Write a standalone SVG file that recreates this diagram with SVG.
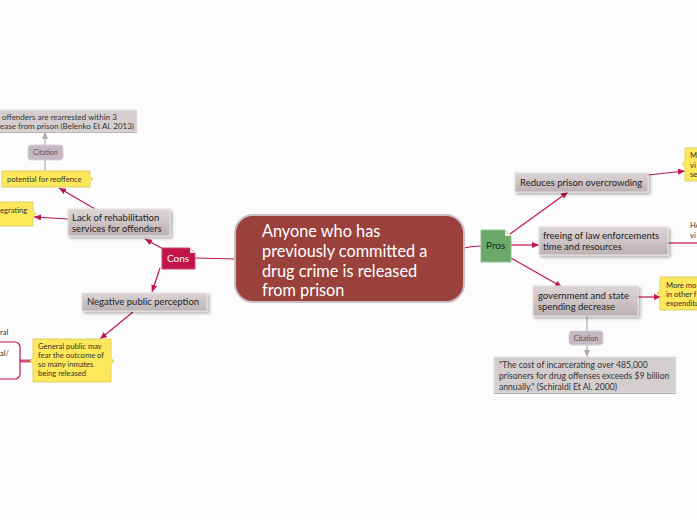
<svg xmlns="http://www.w3.org/2000/svg" width="697" height="520" viewBox="0 0 697 520">
<defs>
<linearGradient id="gb" x1="0" y1="0" x2="0" y2="1">
<stop offset="0" stop-color="#dcd5d6"/>
<stop offset="1" stop-color="#bdb2b3"/>
</linearGradient>
<filter id="sh" x="-20%" y="-30%" width="140%" height="170%">
<feDropShadow dx="2" dy="2" stdDeviation="1.5" flood-color="#000" flood-opacity="0.3"/>
</filter>
<marker id="ar" markerWidth="7" markerHeight="6" refX="7" refY="3" orient="auto" markerUnits="userSpaceOnUse">
<path d="M0,0 L7,3 L0,6 z" fill="#bf1650"/>
</marker>
<marker id="ag" markerWidth="7" markerHeight="6" refX="7" refY="3" orient="auto" markerUnits="userSpaceOnUse">
<path d="M0,0 L7,3 L0,6 z" fill="#b4aab4"/>
</marker>
<style>
text{font-family:Lato,"Liberation Sans",sans-serif;}
.box{fill:url(#gb);stroke:#e4dfe0;stroke-width:1;filter:url(#sh);}
.bt{font-size:9.5px;fill:#222;}
.note{fill:#fde85a;stroke:#e2cf6a;stroke-width:1;}
.nt{font-size:7.6px;fill:#333;}
.cit{fill:#c4b8c4;stroke:#d8d0d8;}
.ct{font-size:7px;fill:#555;text-anchor:middle;}
.q{fill:#d4cecf;stroke:#e6e1e2;}
.qt{font-size:8px;fill:#333;}
.qr{font-size:8.6px;fill:#333;}
.c{fill:none;stroke:#bf1650;stroke-width:1.2;}
.g{fill:none;stroke:#b4aab4;stroke-width:1.2;}
.mt{font-size:16.3px;fill:#fff;}
</style>
</defs>
<rect width="697" height="520" fill="#fdfcfd"/>
<g id="connectors">
<path class="c" d="M235,259 L195,258"/>
<path class="c" d="M464,248 Q472,246 481,246"/>
<path class="c" d="M510,234 L568,192" marker-end="url(#ar)"/>
<path class="c" d="M511,245 L539,245" marker-end="url(#ar)"/>
<path class="c" d="M511,258 L562,287" marker-end="url(#ar)"/>
<path class="c" d="M648,175 L685,171" marker-end="url(#ar)"/>
<path class="c" d="M668,243 L697,243"/>
<path class="c" d="M638,297 L661,297" marker-end="url(#ar)"/>
<path class="g" d="M587,316 V331"/>
<path class="g" d="M587,345 V357" marker-end="url(#ag)"/>
<path class="c" d="M165,250 L145,239" marker-end="url(#ar)"/>
<path class="c" d="M95,209 L59,188" marker-end="url(#ar)"/>
<path class="c" d="M68,219 L34,217" marker-end="url(#ar)"/>
<path class="g" d="M45,171 V160"/>
<path class="g" d="M45,145 V132" marker-end="url(#ag)"/>
<path class="c" d="M160,268 L152,292" marker-end="url(#ar)"/>
<path class="c" d="M133,312 L100,339" marker-end="url(#ar)"/>
<path d="M33,361 H20" fill="none" stroke="#d0507a" stroke-width="3"/>
</g>
<g id="central">
<rect x="235" y="215" width="229" height="87" rx="18" fill="#9a413c" stroke="#cbbdc8" stroke-width="2"/>
<text class="mt" x="262" y="237">Anyone who has</text>
<text class="mt" x="262" y="257">previously committed a</text>
<text class="mt" x="262" y="277">drug crime is released</text>
<text class="mt" x="262" y="296">from prison</text>
</g>
<g id="pros">
<path d="M481,230 H505 L511,236 V262 H481 Z" fill="#6aa96a" stroke="#92c292"/>
<path d="M505,230 V236 H511 Z" fill="#eee"/>
<text x="486" y="249" font-size="10" fill="#1e2a1e">Pros</text>
</g>
<g id="cons">
<path d="M162,248 H190 L195,253 V269 H162 Z" fill="#c2134b" stroke="#d04a72"/>
<path d="M190,248 V253 H195 Z" fill="#eee"/>
<text x="167" y="262" font-size="10" fill="#fff">Cons</text>
</g>
<g id="reduces">
<rect class="box" x="515" y="173" width="133" height="19"/>
<text class="bt" x="520" y="186">Reduces prison overcrowding</text>
</g>
<g id="freeing">
<rect class="box" x="539" y="227" width="129" height="28"/>
<text class="bt" x="543" y="239">freeing of law enforcements</text>
<text class="bt" x="543" y="250">time and resources</text>
</g>
<g id="government">
<rect class="box" x="533" y="286" width="105" height="30"/>
<text class="bt" x="538" y="299">government and state</text>
<text class="bt" x="538" y="310">spending decrease</text>
</g>
<g id="citation-right">
<rect class="cit" x="569" y="331" width="34" height="14" rx="3"/>
<text class="ct" x="586" y="341">Citation</text>
</g>
<g id="quote-right">
<rect class="q" x="494" y="357" width="182" height="36"/>
<path d="M494,393.5 H676" stroke="#b8b0b0" stroke-width="1"/>
<text class="qr" x="499" y="368">"The cost of incarcerating over 485,000</text>
<text class="qr" x="499" y="379">prisoners for drug offenses exceeds $9 billion</text>
<text class="qr" x="499" y="390">annually." (Schiraldi Et Al. 2000)</text>
</g>
<g id="note-reduces">
<path class="note" d="M685,148 H705 V181 H685 V167 L682,164 L685,161 Z"/>
<text class="nt" x="690" y="158">M</text>
<text class="nt" x="690" y="168">vi</text>
<text class="nt" x="690" y="177">se</text>
</g>
<g id="text-freeing">
<text class="nt" x="690" y="228">Ho</text>
<text class="nt" x="690" y="238">vi</text>
</g>
<g id="note-government">
<path class="note" d="M660,277 H705 V310 H660 V296 L657,293 L660,290 Z"/>
<text class="nt" x="666" y="288">More mo</text>
<text class="nt" x="666" y="297">in other f</text>
<text class="nt" x="666" y="306">expenditu</text>
</g>
<g id="lack">
<rect class="box" x="68" y="209" width="102" height="27"/>
<text class="bt" x="72" y="221">Lack of rehabilitation</text>
<text class="bt" x="72" y="232">services for offenders</text>
</g>
<g id="potential">
<path class="note" d="M2,171 H90 V176 L93,179 L90,182 V187 H2 Z"/>
<text class="nt" x="7" y="182">potential for reoffence</text>
</g>
<g id="citation-left">
<rect class="cit" x="28" y="145" width="35" height="15" rx="3"/>
<text class="ct" x="45.5" y="155">Citation</text>
</g>
<g id="quote-left">
<rect class="q" x="-5" y="110" width="142" height="22"/>
<path d="M-5,132.5 H137" stroke="#b8b0b0" stroke-width="1"/>
<text class="qt" x="2" y="120">offenders are rearrested within 3</text>
<text class="qt" x="0" y="129">ease from prison (Belenko Et Al. 2013)</text>
</g>
<g id="integrating">
<path class="note" d="M-5,202 H33 V211 L36,214 L33,217 V226 H-5 Z"/>
<text class="nt" x="0" y="213">egrating</text>
</g>
<g id="negative">
<rect class="box" x="82" y="293" width="125" height="18"/>
<text class="bt" x="87" y="305">Negative public perception</text>
</g>
<g id="general">
<path class="note" d="M33,339 H111 V358 L114,361 L111,364 V382 H33 V364 L30,361 L33,358 Z"/>
<text class="nt" x="38" y="349">General public may</text>
<text class="nt" x="38" y="358">fear the outcome of</text>
<text class="nt" x="38" y="367">so many inmates</text>
<text class="nt" x="38" y="376">being released</text>
</g>
<g id="left-box">
<text class="nt" x="0" y="335">ral</text>
<rect x="-10" y="342" width="30" height="37" rx="5" fill="#fff" stroke="#c2134b" stroke-width="1.2"/>
<text class="nt" x="0" y="356">al/</text>
</g>
</svg>
